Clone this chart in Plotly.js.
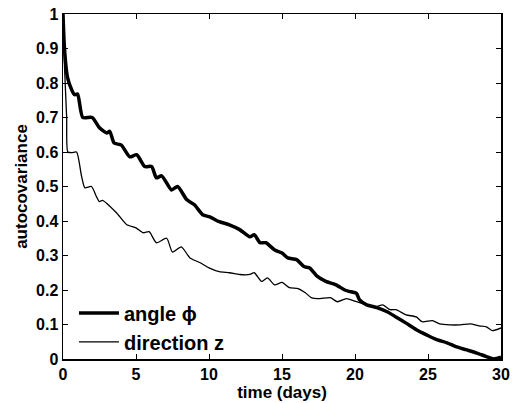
<!DOCTYPE html>
<html>
<head>
<meta charset="utf-8">
<script src="https://cdn.plot.ly/plotly-3.0.1.min.js"></script>
<style>html,body{margin:0;padding:0;background:#fff;}#chart{width:512px;height:403px;}</style>
</head>
<body>
<div id="chart"></div>
<script>
// angle phi (thick)
const tAngle = [0, 0.1, 0.3, 0.6, 0.8, 1.0, 1.35, 2.0, 2.5, 3.0, 3.2, 3.5, 4.0, 4.57, 5.05, 5.6, 6.07, 6.4, 6.76, 7.43, 7.85, 8.47, 9.0, 9.57, 10.05, 10.7, 11.4, 12.1, 12.8, 13.1, 13.5, 13.9, 14.5, 15.0, 15.4, 16.0, 16.5, 16.9, 17.4, 18.0, 18.7, 19.3, 19.6, 20.1, 20.3, 20.8, 21.5, 22.2, 22.8, 23.5, 24.2, 24.9, 25.6, 26.3, 26.9, 27.6, 28.3, 29.0, 29.5, 30];
const vAngle = [1.0, 0.90, 0.818, 0.78, 0.766, 0.768, 0.70, 0.70, 0.67, 0.655, 0.66, 0.626, 0.62, 0.586, 0.592, 0.558, 0.558, 0.525, 0.531, 0.49, 0.50, 0.462, 0.447, 0.418, 0.412, 0.398, 0.389, 0.375, 0.354, 0.36, 0.337, 0.337, 0.316, 0.307, 0.293, 0.288, 0.268, 0.264, 0.24, 0.225, 0.215, 0.20, 0.196, 0.19, 0.172, 0.157, 0.149, 0.137, 0.122, 0.104, 0.085, 0.07, 0.056, 0.047, 0.036, 0.027, 0.018, 0.007, 0.0, 0.005];
// direction z (thin)
const tDir = [0, 0.1, 0.25, 0.33, 0.6, 0.93, 1.27, 1.5, 1.95, 2.3, 2.5, 2.7, 3.66, 4.35, 5.0, 5.5, 5.9, 6.4, 7.1, 7.5, 8.1, 8.7, 9.4, 10.0, 10.7, 11.4, 12.1, 12.8, 13.1, 13.6, 14.0, 14.5, 15.0, 15.5, 16.1, 16.6, 17.0, 17.6, 18.3, 18.8, 19.4, 20.1, 20.8, 21.4, 21.9, 22.4, 22.8, 23.5, 24.2, 24.6, 25.3, 25.8, 26.5, 27.2, 27.9, 28.5, 29.0, 29.4, 30];
const vDir = [1.0, 0.85, 0.70, 0.60, 0.598, 0.60, 0.53, 0.496, 0.50, 0.47, 0.456, 0.46, 0.424, 0.39, 0.38, 0.366, 0.369, 0.337, 0.35, 0.31, 0.325, 0.293, 0.279, 0.264, 0.253, 0.25, 0.245, 0.245, 0.25, 0.225, 0.235, 0.215, 0.222, 0.207, 0.204, 0.192, 0.178, 0.175, 0.178, 0.166, 0.175, 0.166, 0.157, 0.151, 0.157, 0.143, 0.143, 0.128, 0.122, 0.108, 0.111, 0.102, 0.099, 0.099, 0.102, 0.096, 0.093, 0.082, 0.09];

const xTicks = [0, 5, 10, 15, 20, 25, 30];
const yTicks = [0, 0.1, 0.2, 0.3, 0.4, 0.5, 0.6, 0.7, 0.8, 0.9, 1];
const yTickText = ['0', '0.1', '0.2', '0.3', '0.4', '0.5', '0.6', '0.7', '0.8', '0.9', '1'];

const fontFam = 'Liberation Sans, Arial, sans-serif';
const bold = s => '<b>' + s + '</b>';

const traces = [
  {x: tAngle, y: vAngle, mode: 'lines', name: bold('angle ϕ'), line: {color: '#000', width: 3.5, shape: 'spline', smoothing: 0.6}},
  {x: tDir, y: vDir, mode: 'lines', name: bold('direction z'), line: {color: '#000', width: 1.3, shape: 'spline', smoothing: 0.6}}
];

const axisCommon = {
  showgrid: false, zeroline: false, showline: true, linecolor: '#000', linewidth: 1.5,
  mirror: 'ticks', ticks: 'inside', ticklen: 5, tickwidth: 1, tickcolor: '#000',
  tickfont: {family: fontFam, size: 16, color: '#000', weight: 'bold'}
};

const layout = {
  width: 512, height: 403,
  margin: {l: 63, r: 11, t: 14, b: 44},
  paper_bgcolor: '#fff', plot_bgcolor: '#fff',
  showlegend: true,
  legend: {x: 0.025, y: 0.19, xanchor: 'left', yanchor: 'top', bgcolor: 'rgba(0,0,0,0)',
    font: {family: fontFam, size: 20, color: '#000'}, tracegroupgap: 0, itemwidth: 40},
  xaxis: Object.assign({}, axisCommon, {range: [0, 30], tickvals: xTicks, ticktext: xTicks.map(v => bold(String(v))),
    title: {text: bold('time (days)'), font: {family: fontFam, size: 17, color: '#000'}, standoff: 0}}),
  yaxis: Object.assign({}, axisCommon, {range: [0, 1], tickvals: yTicks, ticktext: yTickText.map(bold),
    title: {text: bold('autocovariance'), font: {family: fontFam, size: 17, color: '#000'}, standoff: 4}})
};

Plotly.newPlot('chart', traces, layout, {staticPlot: true});
</script>
</body>
</html>
